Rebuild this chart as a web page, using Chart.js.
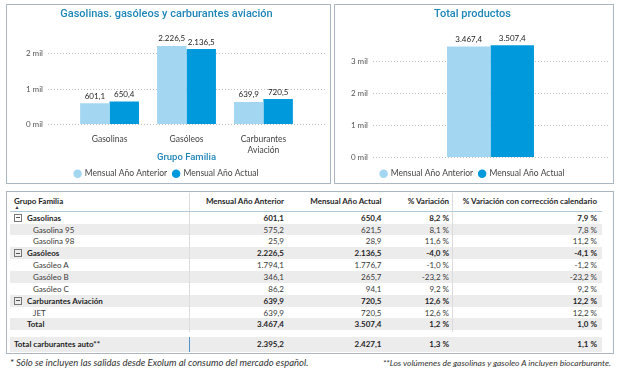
<!DOCTYPE html>
<html><head><meta charset="utf-8">
<script src="https://cdn.jsdelivr.net/npm/chart.js@4.4.1/dist/chart.umd.min.js"></script>
<style>
html,body{margin:0;padding:0;background:#fff;width:620px;height:369px;overflow:hidden;font-family:Lato,'Open Sans',sans-serif;}
.panel{position:absolute;border:1.5px solid #aab7c3;box-sizing:border-box;}
canvas{position:absolute;}
.t{position:absolute;white-space:nowrap;font-size:8px;line-height:10px;color:#3a3a3a;}
.b{font-weight:700;color:#1f1f1f;}
.r{text-align:right;width:200px;}
.stripe{position:absolute;background:#ececec;}
.vl{position:absolute;width:1px;background:#dcdcdc;}
.icon{position:absolute;width:6px;height:6px;border:1px solid #777;}
.icon:after{content:'';position:absolute;left:1px;top:2.5px;width:4px;height:1px;background:#555;}
.foot{position:absolute;font-style:italic;color:#333;white-space:nowrap;line-height:10px;}
</style></head><body>
<div class="panel" style="left:6px;top:4px;width:325px;height:180px"></div>
<div class="panel" style="left:334px;top:4px;width:280px;height:180px"></div>
<canvas id="c1" width="321" height="182" style="left:8px;top:6px"></canvas>
<canvas id="c2" width="274" height="182" style="left:337px;top:6px"></canvas>
<div class="panel" style="left:6px;top:191px;width:608px;height:163px"></div>
<div id="tbl"></div>
<div class="foot" style="left:10px;top:358px;font-size:9.5px">* Sólo se incluyen las salidas desde Exolum al consumo del mercado español.</div>
<div class="foot" style="left:311px;top:358px;width:300px;text-align:right;font-size:8.5px">**Los volúmenes de gasolinas y gasoleo A incluyen biocarburante.</div>
<script>
// ---- chart data ----
const categories = ['Gasolinas', 'Gasóleos', 'Carburantes Aviación'];
const seriesNames = ['Mensual Año Anterior', 'Mensual Año Actual'];
const prevYear = [601.1, 2226.5, 639.9];
const currYear = [650.4, 2136.5, 720.5];
const totalCategories = ['Total productos'];
const totalPrev = [3467.4];
const totalCurr = [3507.4];
const yTicksFamily = [0, 1000, 2000];
const yTicksTotal = [0, 1000, 2000, 3000];

// ---- table data ----
const tableHeaders = ['Grupo Familia', 'Mensual Año Anterior', 'Mensual Año Actual', '% Variación', '% Variación con corrección calendario'];
const tableNames = ['Gasolinas', 'Gasolina 95', 'Gasolina 98', 'Gasóleos', 'Gasóleo A', 'Gasóleo B', 'Gasóleo C', 'Carburantes Aviación', 'JET', 'Total'];
const tableLevels = [0, 1, 1, 0, 1, 1, 1, 0, 1, 2];
const tablePrev = [601.1, 575.2, 25.9, 2226.5, 1794.1, 346.1, 86.2, 639.9, 639.9, 3467.4];
const tableCurr = [650.4, 621.5, 28.9, 2136.5, 1776.7, 265.7, 94.1, 720.5, 720.5, 3507.4];
const tableVar = [8.2, 8.1, 11.6, -4.0, -1.0, -23.2, 9.2, 12.6, 12.6, 1.2];
const tableVarCal = [7.9, 7.8, 11.2, -4.1, -1.2, -23.2, 9.2, 12.2, 12.2, 1.0];
const autoName = 'Total carburantes auto**';
const autoValues = [2395.2, 2427.1, 1.3, 1.1];

const LIGHT = '#a3d7f1', DARK = '#0099dc', TITLE = '#1f86b8';

function fmt(v) {
  const neg = v < 0;
  let [i, d] = Math.abs(v).toFixed(1).split('.');
  i = i.replace(/\B(?=(\d{3})+(?!\d))/g, '.');
  return (neg ? '-' : '') + i + ',' + d;
}
const pct = v => fmt(v) + ' %';

const valueLabels = {
  id: 'valueLabels',
  afterDatasetsDraw(chart) {
    const ctx = chart.ctx;
    ctx.save();
    ctx.font = '8px Lato';
    ctx.fillStyle = '#252525';
    ctx.textAlign = 'center';
    ctx.textBaseline = 'bottom';
    chart.data.datasets.forEach((ds, i) => {
      chart.getDatasetMeta(i).data.forEach((el, j) => {
        const v = ds.data[j];
        const val = (typeof v === 'object') ? v.y : v;
        ctx.fillText(fmt(val), el.x, el.y - 3);
      });
    });
    ctx.restore();
  }
};

const legendOpts = {
  position: 'bottom',
  labels: { usePointStyle: true, pointStyle: 'circle', boxWidth: 6, boxHeight: 6, padding: 6, color: '#444', font: { family: 'Lato', size: 8.5 } }
};

const setTicks = (arr) => (s) => { s.ticks = arr.map(v => ({ value: v })); };

new Chart(document.getElementById('c1'), {
  type: 'bar',
  data: {
    datasets: [
      { label: seriesNames[0], data: prevYear.map((v, i) => ({ x: i, y: v })), backgroundColor: LIGHT },
      { label: seriesNames[1], data: currYear.map((v, i) => ({ x: i, y: v })), backgroundColor: DARK }
    ]
  },
  options: {
    responsive: false, animation: false, devicePixelRatio: 1,
    categoryPercentage: 0.765, barPercentage: 1,
    layout: { padding: { left: 0, right: 4, top: 0, bottom: 0 } },
    plugins: {
      title: { display: true, text: 'Gasolinas. gasóleos y carburantes aviación', color: TITLE, font: { family: 'Roboto', size: 11, weight: '500' }, padding: { top: 1.4, bottom: 11.4 } },
      legend: legendOpts,
      tooltip: { enabled: false }
    },
    scales: {
      x: {
        type: 'linear', min: -0.8, max: 2.8, bounds: 'data', offset: false,
        grid: { display: false, drawTicks: false, offset: false }, border: { display: false },
        ticks: {
          padding: 9, color: '#444', autoSkip: false, maxRotation: 0,
          font: { family: 'Lato', size: 8.5, lineHeight: 1.3 },
          callback: (v) => { const c = categories[v]; if (c === undefined) return ''; return (c.length > 12 && c.indexOf(' ') > 0) ? c.split(' ') : c; }
        },
        afterBuildTicks: setTicks(categories.map((c, i) => i)),
        title: { display: true, text: 'Grupo Familia', color: TITLE, font: { family: 'Roboto', size: 9.5, weight: '500' }, padding: { top: 0, bottom: 0 } },
        afterFit: (s) => { s.height = 39; }
      },
      y: {
        min: 0, max: 2620, bounds: 'data',
        grid: { color: '#bdbdbd', drawTicks: false, lineWidth: 1 },
        border: { display: false, dash: [1, 2] },
        ticks: { padding: 5, color: '#555', font: { family: 'Lato', size: 8 }, callback: v => (v / 1000) + ' mil' },
        afterBuildTicks: setTicks(yTicksFamily),
        afterFit: (s) => { s.width = 40; }
      }
    }
  },
  plugins: [valueLabels]
});

new Chart(document.getElementById('c2'), {
  type: 'bar',
  data: {
    labels: totalCategories,
    datasets: [
      { label: seriesNames[0], data: totalPrev, backgroundColor: LIGHT },
      { label: seriesNames[1], data: totalCurr, backgroundColor: DARK }
    ]
  },
  options: {
    responsive: false, animation: false, devicePixelRatio: 1,
    categoryPercentage: 0.37, barPercentage: 1,
    layout: { padding: { left: 0, right: 3, top: 0, bottom: 0 } },
    plugins: {
      title: { display: true, text: 'Total productos', color: TITLE, font: { family: 'Roboto', size: 11, weight: '500' }, padding: { top: 1.4, bottom: 8.8 } },
      legend: legendOpts,
      tooltip: { enabled: false }
    },
    scales: {
      x: { grid: { display: false, drawTicks: false }, border: { display: false }, ticks: { display: false }, afterFit: (s) => { s.height = 6; } },
      y: {
        min: 0, max: 4000, bounds: 'data',
        grid: { color: '#bdbdbd', drawTicks: false, lineWidth: 1 },
        border: { display: false, dash: [1, 2] },
        ticks: { padding: 5, color: '#555', font: { family: 'Lato', size: 8 }, callback: v => (v / 1000) + ' mil' },
        afterBuildTicks: setTicks(yTicksTotal),
        afterFit: (s) => { s.width = 36; }
      }
    }
  },
  plugins: [valueLabels]
});

// ---- table (HTML) ----
(function () {
  const host = document.getElementById('tbl');
  let html = '';
  const colRight = [null, 284, 381.5, 449, 597];
  const rowTop0 = 211.8, rowH = 11.85;
  const txt = (x, cy, s, cls, right) => right
    ? `<div class="t r ${cls}" style="left:${x - 200}px;top:${cy - 5}px">${s}</div>`
    : `<div class="t ${cls}" style="left:${x}px;top:${cy - 5}px">${s}</div>`;
  for (let i = 0; i < tableNames.length; i++) {
    if (i % 2 === 1) html += `<div class="stripe" style="left:10px;top:${rowTop0 + i * rowH}px;width:592px;height:${rowH}px"></div>`;
  }
  html += `<div class="stripe" style="left:10px;top:337px;width:592px;height:14.5px"></div>`;
  html += `<div class="vl" style="left:189px;top:193px;height:139px"></div>`;
  html += `<div class="vl" style="left:452px;top:193px;height:139px"></div>`;
  html += `<div class="vl" style="left:189px;top:337px;height:14.5px;background:#4f93c8"></div>`;
  html += `<div style="position:absolute;left:10px;top:210.5px;width:592px;height:1px;background:#b3cadb"></div>`;
  const hy = 200.7;
  html += txt(14, hy, tableHeaders[0], 'b', false);
  html += `<div class="t" style="left:14.5px;top:203.5px;font-size:5px;line-height:6px;color:#333">▲</div>`;
  for (let c = 1; c < 5; c++) html += txt(colRight[c], hy, tableHeaders[c], 'b', true);
  for (let i = 0; i < tableNames.length; i++) {
    const cy = rowTop0 + i * rowH + rowH / 2;
    const lvl = tableLevels[i];
    const cls = lvl === 1 ? '' : 'b';
    if (lvl === 0) html += `<div class="icon" style="left:14px;top:${cy - 4}px"></div>`;
    html += txt(lvl === 1 ? 33 : 27, cy, tableNames[i], cls, false);
    html += txt(colRight[1], cy, fmt(tablePrev[i]), cls, true);
    html += txt(colRight[2], cy, fmt(tableCurr[i]), cls, true);
    html += txt(colRight[3], cy, pct(tableVar[i]), cls, true);
    html += txt(colRight[4], cy, pct(tableVarCal[i]), cls, true);
  }
  const ay = 344.2;
  html += txt(14, ay, autoName, 'b', false);
  html += txt(colRight[1], ay, fmt(autoValues[0]), 'b', true);
  html += txt(colRight[2], ay, fmt(autoValues[1]), 'b', true);
  html += txt(colRight[3], ay, pct(autoValues[2]), 'b', true);
  html += txt(colRight[4], ay, pct(autoValues[3]), 'b', true);
  host.innerHTML = html;
})();
</script>
</body></html>
